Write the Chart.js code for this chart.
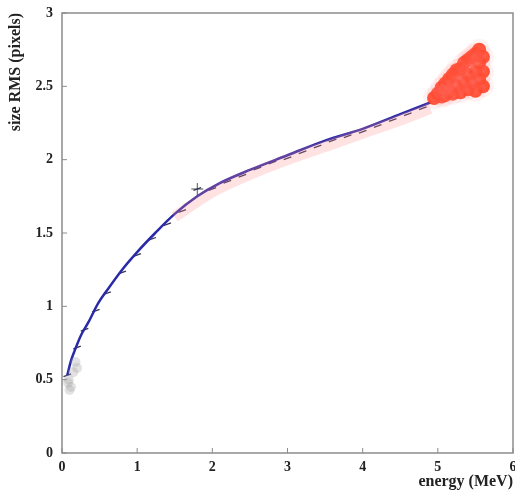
<!DOCTYPE html>
<html>
<head>
<meta charset="utf-8">
<script src="https://cdn.jsdelivr.net/npm/chart.js@4.4.1/dist/chart.umd.min.js"></script>
<style>
  html, body { margin: 0; padding: 0; background: #fff; }
  #wrap { width: 515px; height: 493px; }
</style>
</head>
<body>
<div id="wrap"><canvas id="chart" width="515" height="493"></canvas></div>
<script>
// fit curve
const fitX = [0.07, 0.12, 0.17, 0.25, 0.35, 0.48, 0.6, 0.8, 1.0, 1.24, 1.5, 1.8, 2.1, 2.5, 3.0, 3.5, 4.0, 4.5, 4.9];
const fitY = [0.53, 0.63, 0.70, 0.80, 0.89, 1.02, 1.11, 1.25, 1.37, 1.50, 1.63, 1.75, 1.84, 1.93, 2.03, 2.13, 2.21, 2.31, 2.39];

// measured points (dashes on the curve)
const ptX = [0.07, 0.2, 0.3, 0.45, 0.6, 0.8, 1.0, 1.2, 1.4, 1.6, 1.8, 2.0, 2.2, 2.4, 2.6, 2.8, 3.0, 3.2, 3.4, 3.6, 3.8, 4.0, 4.2, 4.4, 4.6, 4.8];
const ptY = [0.53, 0.72, 0.84, 0.97, 1.09, 1.23, 1.35, 1.46, 1.56, 1.65, 1.80, 1.80, 1.85, 1.89, 1.94, 1.98, 2.01, 2.05, 2.09, 2.13, 2.16, 2.19, 2.23, 2.27, 2.31, 2.35];

// pink haze just under the curve
const hazeX = [1.5, 2.0, 2.5, 3.0, 3.5, 4.0, 4.5, 4.9];
const hazeY = [1.61, 1.78, 1.90, 2.00, 2.09, 2.18, 2.27, 2.35];

// red cloud at high energy
const cloudX = [4.95, 5.0, 5.05, 5.05, 5.1, 5.1, 5.15, 5.15, 5.2, 5.2, 5.25, 5.25, 5.3, 5.3, 5.35, 5.35, 5.4, 5.4, 5.4, 5.45, 5.45, 5.5, 5.5, 5.5, 5.55, 5.55, 5.55, 5.6, 5.6, 5.6];
const cloudY = [2.42, 2.45, 2.43, 2.49, 2.44, 2.52, 2.47, 2.55, 2.45, 2.58, 2.50, 2.61, 2.46, 2.62, 2.53, 2.66, 2.48, 2.58, 2.68, 2.52, 2.70, 2.47, 2.60, 2.72, 2.55, 2.66, 2.75, 2.50, 2.60, 2.70];

// grey points at low energy
const lowX = [0.08, 0.1, 0.12, 0.15, 0.18, 0.2, 0.09];
const lowY = [0.48, 0.43, 0.45, 0.55, 0.62, 0.58, 0.50];

const xTicks = [0, 1, 2, 3, 4, 5, 6];
const yTicks = [0, 0.5, 1, 1.5, 2, 2.5, 3];

const pairs = (xs, ys) => xs.map((x, i) => ({ x: x, y: ys[i] }));

// big markers should not push the plot area inwards
Chart.ScatterController.prototype.getMaxOverflow = () => 0;
Chart.LineController.prototype.getMaxOverflow = () => 0;

const frame = {
  id: 'frame',
  afterDraw(chart) {
    const { ctx, chartArea: a, scales } = chart;
    ctx.save();
    ctx.strokeStyle = '#8c8c8c';
    ctx.lineWidth = 1.5;
    ctx.strokeRect(a.left, a.top, a.right - a.left, a.bottom - a.top);
    ctx.lineWidth = 1;
    ctx.beginPath();
    xTicks.forEach(v => {
      const px = scales.x.getPixelForValue(v);
      ctx.moveTo(px, a.bottom); ctx.lineTo(px, a.bottom - 5);
    });
    yTicks.forEach(v => {
      const py = scales.y.getPixelForValue(v);
      ctx.moveTo(a.left, py); ctx.lineTo(a.left + 5, py);
    });
    ctx.stroke();
    ctx.restore();
  }
};

const tickFont = { family: '"Liberation Serif", serif', weight: 'bold', size: 14 };
const titleFont = { family: '"Liberation Serif", serif', weight: 'bold', size: 16 };

new Chart(document.getElementById('chart'), {
  type: 'scatter',
  data: {
    datasets: [
      { type: 'line', data: pairs(hazeX, hazeY), borderColor: 'rgba(255,140,140,0.25)', borderWidth: 11, pointRadius: 0, cubicInterpolationMode: 'monotone', fill: false },
      { data: pairs(cloudX, cloudY), backgroundColor: 'rgba(255,130,130,0.10)', borderWidth: 0, pointRadius: 11 },
      { data: pairs(cloudX, cloudY), backgroundColor: 'rgba(255,55,20,0.9)', borderWidth: 0, pointRadius: 7 },
      { data: pairs(lowX, lowY), backgroundColor: 'rgba(160,160,160,0.3)', borderWidth: 0, pointRadius: 5 },
      { type: 'line', data: pairs(fitX, fitY), borderColor: '#2a2aa8', borderWidth: 2.5, pointRadius: 0, cubicInterpolationMode: 'monotone', fill: false },
      { data: pairs(ptX, ptY), pointStyle: 'line', rotation: -20, pointRadius: 4, borderColor: '#333355', borderWidth: 1.3 },
      { data: [{ x: 1.8, y: 1.80 }], pointStyle: 'crossRot', rotation: 45, pointRadius: 6, borderColor: '#555', borderWidth: 1 }
    ]
  },
  options: {
    responsive: false,
    animation: false,
    layout: { padding: { top: 13, right: 2, left: 0, bottom: 0 } },
    plugins: { legend: { display: false }, tooltip: { enabled: false } },
    scales: {
      x: {
        type: 'linear', min: 0, max: 6,
        afterBuildTicks: s => { s.ticks = xTicks.map(v => ({ value: v })); },
        afterFit: s => { s.height = 40; s.paddingLeft = 0; s.paddingRight = 0; },
        grid: { display: false, drawTicks: false },
        border: { display: false },
        ticks: { color: '#222', font: tickFont, padding: 6, callback: v => String(v) },
        title: { display: true, text: 'energy (MeV)', align: 'end', color: '#222', font: titleFont, padding: { top: 0, bottom: 2 } }
      },
      y: {
        type: 'linear', min: 0, max: 3,
        afterBuildTicks: s => { s.ticks = yTicks.map(v => ({ value: v })); },
        afterFit: s => { s.width = 62; s.paddingTop = 0; s.paddingBottom = 0; },
        grid: { display: false, drawTicks: false },
        border: { display: false },
        ticks: { color: '#222', font: tickFont, padding: 9, callback: v => String(v) },
        title: { display: true, text: 'size RMS (pixels)', align: 'end', color: '#222', font: titleFont, padding: { top: 6, bottom: 0 } }
      }
    }
  },
  plugins: [frame]
});
</script>
</body>
</html>
